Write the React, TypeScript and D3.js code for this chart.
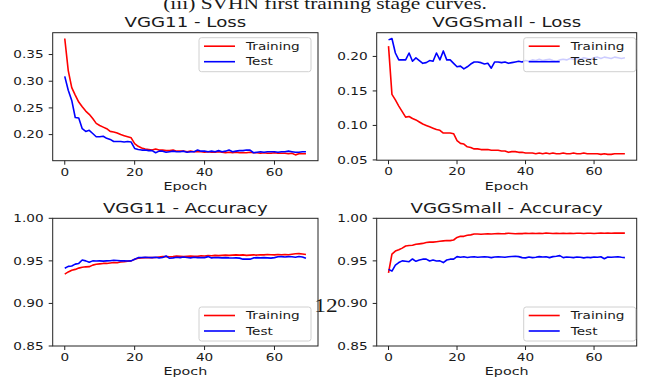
import React from 'react';
import * as d3 from 'd3';

// epochs 0..69
const epochs = d3.range(70);

const vgg11LossTrain = [0.380, 0.320, 0.288, 0.274, 0.261, 0.252, 0.244, 0.238, 0.230, 0.221,
  0.217, 0.214, 0.211, 0.206, 0.205, 0.203, 0.200, 0.198, 0.196, 0.194,
  0.183, 0.178, 0.175, 0.173, 0.172, 0.171, 0.173, 0.171, 0.171, 0.170,
  0.170, 0.171, 0.169, 0.169, 0.169, 0.168, 0.169, 0.168, 0.168, 0.168,
  0.167, 0.168, 0.167, 0.167, 0.168, 0.167, 0.166, 0.167, 0.166, 0.167,
  0.166, 0.166, 0.166, 0.167, 0.166, 0.166, 0.165, 0.166, 0.165, 0.165,
  0.166, 0.165, 0.165, 0.165, 0.164, 0.165, 0.162, 0.164, 0.164, 0.164];
const vgg11LossTest = [0.309, 0.283, 0.264, 0.232, 0.231, 0.211, 0.206, 0.208, 0.202, 0.196,
  0.196, 0.197, 0.193, 0.191, 0.187, 0.187, 0.187, 0.186, 0.187, 0.186,
  0.174, 0.172, 0.171, 0.171, 0.170, 0.170, 0.166, 0.169, 0.169, 0.167,
  0.168, 0.169, 0.168, 0.168, 0.169, 0.167, 0.168, 0.168, 0.171, 0.169,
  0.169, 0.168, 0.169, 0.168, 0.170, 0.168, 0.169, 0.171, 0.168, 0.169,
  0.170, 0.170, 0.171, 0.171, 0.166, 0.167, 0.168, 0.167, 0.168, 0.168,
  0.168, 0.167, 0.168, 0.168, 0.169, 0.168, 0.167, 0.167, 0.168, 0.168];

const vggSmallLossTrain = [0.215, 0.145, 0.137, 0.128, 0.120, 0.112, 0.113, 0.110, 0.108, 0.105,
  0.102, 0.100, 0.098, 0.096, 0.094, 0.093, 0.089, 0.089, 0.089, 0.088,
  0.078, 0.074, 0.073, 0.069, 0.068, 0.066, 0.066, 0.065, 0.065, 0.065,
  0.064, 0.064, 0.064, 0.063, 0.063, 0.061, 0.062, 0.062, 0.061, 0.061,
  0.060, 0.060, 0.060, 0.059, 0.060, 0.059, 0.060, 0.059, 0.060, 0.059,
  0.059, 0.060, 0.059, 0.059, 0.060, 0.059, 0.059, 0.060, 0.059, 0.059,
  0.059, 0.059, 0.058, 0.059, 0.058, 0.058, 0.059, 0.059, 0.059, 0.059];
const vggSmallLossTest = [0.224, 0.226, 0.205, 0.195, 0.195, 0.195, 0.205, 0.193, 0.198, 0.194,
  0.190, 0.191, 0.194, 0.193, 0.205, 0.195, 0.208, 0.195, 0.195, 0.190,
  0.185, 0.186, 0.182, 0.185, 0.189, 0.192, 0.192, 0.191, 0.189, 0.190,
  0.183, 0.192, 0.192, 0.191, 0.192, 0.190, 0.191, 0.192, 0.193, 0.192,
  0.194, 0.193, 0.195, 0.194, 0.196, 0.194, 0.195, 0.196, 0.194, 0.193,
  0.195, 0.196, 0.195, 0.197, 0.196, 0.197, 0.196, 0.198, 0.197, 0.196,
  0.198, 0.199, 0.197, 0.199, 0.198, 0.197, 0.199, 0.198, 0.197, 0.198];

const vgg11AccTrain = [0.9345, 0.937, 0.939, 0.940, 0.9415, 0.9425, 0.943, 0.9432, 0.945, 0.946,
  0.9465, 0.947, 0.947, 0.9475, 0.948, 0.9478, 0.9487, 0.949, 0.9497, 0.950,
  0.9518, 0.953, 0.9535, 0.9538, 0.954, 0.9538, 0.954, 0.9545, 0.955, 0.955,
  0.9548, 0.955, 0.9558, 0.9555, 0.9552, 0.9555, 0.9558, 0.9555, 0.9553, 0.956,
  0.9558, 0.9562, 0.956, 0.9565, 0.9562, 0.9565, 0.9568, 0.9565, 0.9568, 0.957,
  0.9568, 0.957, 0.9565, 0.9568, 0.957, 0.9568, 0.9572, 0.957, 0.9575, 0.9572,
  0.957, 0.9575, 0.9572, 0.9575, 0.9572, 0.9578, 0.9583, 0.9585, 0.958, 0.9575];
const vgg11AccTest = [0.9413, 0.9435, 0.944, 0.9462, 0.947, 0.951, 0.950, 0.9483, 0.950, 0.9498,
  0.950, 0.9497, 0.950, 0.9502, 0.9508, 0.9505, 0.950, 0.9502, 0.9498, 0.950,
  0.952, 0.9538, 0.954, 0.9542, 0.954, 0.9538, 0.9542, 0.9535, 0.954, 0.9557,
  0.953, 0.9535, 0.9542, 0.9538, 0.9545, 0.954, 0.9535, 0.9542, 0.9538, 0.954,
  0.9538, 0.955, 0.9535, 0.954, 0.9538, 0.9535, 0.9538, 0.9535, 0.9533, 0.9535,
  0.9532, 0.952, 0.9522, 0.952, 0.9535, 0.9538, 0.9535, 0.9538, 0.9535, 0.9532,
  0.9538, 0.9548, 0.955, 0.9545, 0.955, 0.9548, 0.9542, 0.9552, 0.9545, 0.953];

const vggSmallAccTrain = [0.936, 0.958, 0.9615, 0.963, 0.965, 0.9675, 0.968, 0.9683, 0.9695, 0.970,
  0.9705, 0.9715, 0.972, 0.972, 0.9725, 0.973, 0.9735, 0.974, 0.9738, 0.9745,
  0.9775, 0.979, 0.9788, 0.980, 0.9805, 0.9815, 0.9815, 0.9812, 0.9815, 0.9818,
  0.9815, 0.9818, 0.982, 0.9818, 0.982, 0.9825, 0.9822, 0.9818, 0.9822, 0.982,
  0.9825, 0.9822, 0.9825, 0.9822, 0.9825, 0.9822, 0.9827, 0.9825, 0.9822, 0.9825,
  0.9822, 0.9825, 0.9822, 0.9825, 0.9822, 0.9825, 0.9825, 0.9822, 0.9825, 0.9825,
  0.9822, 0.9825, 0.9827, 0.9825, 0.9828, 0.9825, 0.9828, 0.9826, 0.9827, 0.9826];
const vggSmallAccTest = [0.940, 0.938, 0.945, 0.948, 0.950, 0.9495, 0.949, 0.9522, 0.9495, 0.951,
  0.952, 0.952, 0.9498, 0.951, 0.9498, 0.950, 0.948, 0.951, 0.952, 0.952,
  0.955, 0.9542, 0.9548, 0.954, 0.9545, 0.9548, 0.9542, 0.9545, 0.9548, 0.9545,
  0.9538, 0.9545, 0.9548, 0.9545, 0.9542, 0.9548, 0.9552, 0.9555, 0.955, 0.9538,
  0.9535, 0.9545, 0.9538, 0.9542, 0.955, 0.9545, 0.9548, 0.9538, 0.955, 0.9555,
  0.9562, 0.9538, 0.9545, 0.9542, 0.9538, 0.9545, 0.9542, 0.9535, 0.9542, 0.9538,
  0.9545, 0.9542, 0.9548, 0.9525, 0.9545, 0.9542, 0.9545, 0.9548, 0.9542, 0.9538];

const xTicks = [0, 20, 40, 60];
const lossTicks1 = [0.20, 0.25, 0.30, 0.35];
const lossTicks2 = [0.05, 0.10, 0.15, 0.20];
const accTicks = [0.85, 0.90, 0.95, 1.00];
const accDomain = [0.85, 1.0];

const SX = 1.3; // the scanned figure is stretched horizontally
const FONT = 'DejaVu Sans, sans-serif';

const SText = ({ x, y, size, anchor = 'start', children, family = FONT, sx = SX, dy = 0 }: any) => (
  <text transform={`translate(${x},${y}) scale(${sx},1)`} dy={dy} fontSize={size}
    fontFamily={family} textAnchor={anchor} fill="#1a1a1a">{children}</text>
);

// matplotlib style autoscale, 5% margins
const autoDomain = (a: number[], b: number[]) => {
  const [lo, hi] = d3.extent(a.concat(b)) as [number, number];
  const m = (hi - lo) * 0.05;
  return [lo - m, hi + m];
};

const Panel = ({ left, top, width, height, title, train, test, yDomain, yTicks, legendTop, legendRight }: any) => {
  const x = d3.scaleLinear().domain([-3.45, 72.45]).range([left, left + width]);
  const y = d3.scaleLinear().domain(yDomain).range([top + height, top]);
  const line = d3.line<number>().x((_, i) => x(epochs[i])).y(d => y(d));
  const lx = left + width - legendRight - 112;
  return (
    <g>
      <SText x={left + width / 2} y={top - 5.5} size={14} anchor="middle">{title}</SText>
      <path d={line(train) ?? ''} fill="none" stroke="#ff0000" strokeWidth={1.6} strokeLinejoin="round" />
      <path d={line(test) ?? ''} fill="none" stroke="#0000ff" strokeWidth={1.6} strokeLinejoin="round" />
      <rect x={left} y={top} width={width} height={height} fill="none" stroke="#222" strokeWidth={1} />
      {xTicks.map(t => (
        <g key={t}>
          <line x1={x(t)} x2={x(t)} y1={top + height} y2={top + height + 4} stroke="#222" />
          <SText x={x(t)} y={top + height + 15} size={10.5} anchor="middle">{t}</SText>
        </g>
      ))}
      {yTicks.map((t: number) => (
        <g key={t}>
          <line x1={left - 4} x2={left} y1={y(t)} y2={y(t)} stroke="#222" />
          <SText x={left - 9} y={y(t)} dy="0.36em" size={10.5} anchor="end">{t.toFixed(2)}</SText>
        </g>
      ))}
      <SText x={left + width / 2} y={top + height + 29.3} size={11} anchor="middle">Epoch</SText>
      <g>
        <rect x={lx} y={legendTop} width={112} height={34} rx={2.5} fill="#fff" fillOpacity={0.8}
          stroke="#d0d0d0" strokeWidth={1} />
        <line x1={lx + 5} x2={lx + 36} y1={legendTop + 8.5} y2={legendTop + 8.5} stroke="#ff0000" strokeWidth={1.6} />
        <line x1={lx + 5} x2={lx + 36} y1={legendTop + 24} y2={legendTop + 24} stroke="#0000ff" strokeWidth={1.6} />
        <SText x={lx + 47} y={legendTop + 8.5} dy="0.36em" size={10.5}>Training</SText>
        <SText x={lx + 47} y={legendTop + 24} dy="0.36em" size={10.5}>Test</SText>
      </g>
    </g>
  );
};

export default function App() {
  return (
    <svg width={645} height={382} style={{ position: 'absolute', left: 0, top: 0, background: '#fff' }}>
      <SText x={325} y={9} size={16} anchor="middle" family="Liberation Serif, serif" sx={1.34}>
        (iii) SVHN first training stage curves.
      </SText>
      <Panel left={52.7} top={32.7} width={265.3} height={128} title="VGG11 - Loss"
        train={vgg11LossTrain} test={vgg11LossTest} yDomain={autoDomain(vgg11LossTrain, vgg11LossTest)}
        yTicks={lossTicks1} legendTop={37.7} legendRight={7} />
      <Panel left={376.7} top={32.7} width={260} height={127.5} title="VGGSmall - Loss"
        train={vggSmallLossTrain} test={vggSmallLossTest} yDomain={autoDomain(vggSmallLossTrain, vggSmallLossTest)}
        yTicks={lossTicks2} legendTop={37.7} legendRight={1} />
      <Panel left={52.7} top={218.3} width={265.3} height={127.7} title="VGG11 - Accuracy"
        train={vgg11AccTrain} test={vgg11AccTest} yDomain={accDomain}
        yTicks={accTicks} legendTop={307} legendRight={7} />
      <Panel left={376.7} top={218.3} width={260} height={127.7} title="VGGSmall - Accuracy"
        train={vggSmallAccTrain} test={vggSmallAccTest} yDomain={accDomain}
        yTicks={accTicks} legendTop={307} legendRight={1} />
      <SText x={326} y={312} size={18} anchor="middle" family="Liberation Serif, serif" sx={1.3}>12</SText>
    </svg>
  );
}
